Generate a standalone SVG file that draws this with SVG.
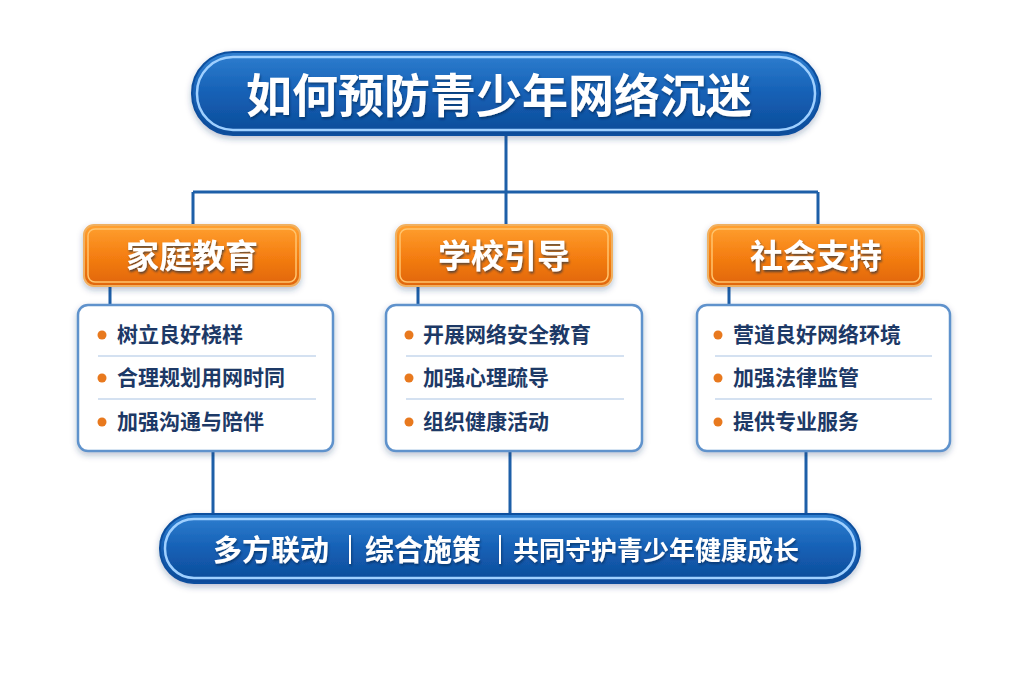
<svg xmlns="http://www.w3.org/2000/svg" width="1024" height="683" viewBox="0 0 1024 683">
<defs>
<linearGradient id="blueG" x1="0" y1="0" x2="0" y2="1">
<stop offset="0" stop-color="#2f7fd0"/>
<stop offset="0.5" stop-color="#1560b5"/>
<stop offset="1" stop-color="#0d4b98"/>
</linearGradient>
<linearGradient id="orangeG" x1="0" y1="0" x2="0" y2="1">
<stop offset="0" stop-color="#ffa030"/>
<stop offset="0.5" stop-color="#f57f12"/>
<stop offset="1" stop-color="#e0650a"/>
</linearGradient>
<filter id="sh" x="-10%" y="-20%" width="120%" height="150%">
<feDropShadow dx="0" dy="3" stdDeviation="3" flood-color="#1a3a6a" flood-opacity="0.3"/>
</filter>
<filter id="tsh" x="-5%" y="-20%" width="110%" height="150%">
<feDropShadow dx="1" dy="2" stdDeviation="1" flood-color="#05254f" flood-opacity="0.6"/>
</filter>
</defs>
<style>
.cn{font-family:"Noto Sans CJK SC","Noto Sans",sans-serif;font-weight:bold}
.wt{fill:#ffffff}
.item{font-family:"Noto Sans CJK SC","Noto Sans",sans-serif;font-weight:bold;font-size:21px;fill:#1d3966}
.dot{fill:#e8791e}
.sep{stroke:#a9c4e4;stroke-width:1.2}
.conn{stroke:#1d5fa8;stroke-width:3;fill:none}
.card{fill:#ffffff;stroke:#5e92cc;stroke-width:2.5}
.obox{fill:url(#orangeG);stroke:#f0b060;stroke-width:2}
.oin{fill:none;stroke:#ffc46e;stroke-width:1.5}
.pill{fill:url(#blueG);stroke:#0e4f9e;stroke-width:2}
.pin{fill:none;stroke:#9fd0ff;stroke-width:2.5}
</style>
<rect width="1024" height="683" fill="#ffffff"/>
<g id="connectors">
<path class="conn" d="M506 135 V192 M193 192 H818 M193 192 V226 M506 192 V226 M818 192 V226"/>
<path class="conn" d="M110 286 V306 M418 286 V306 M729 286 V306"/>
<path class="conn" d="M213 451 V515 M510 451 V515 M806 451 V515"/>
</g>
<g id="title">
<rect class="pill" x="192" y="52" width="628" height="83" rx="41" filter="url(#sh)"/>
<rect class="pin" x="197" y="57" width="618" height="73" rx="36"/>
<text class="cn wt" x="499" y="112" font-size="46" text-anchor="middle" filter="url(#tsh)">如何预防青少年网络沉迷</text>
</g>
<g id="family">
<rect class="obox" x="84" y="225" width="216" height="61" rx="10" filter="url(#sh)"/>
<rect class="oin" x="88" y="229" width="208" height="53" rx="7"/>
<text class="cn wt" x="192" y="268" font-size="33" text-anchor="middle" filter="url(#tsh)">家庭教育</text>
</g>
<g id="school">
<rect class="obox" x="396" y="225" width="216" height="61" rx="10" filter="url(#sh)"/>
<rect class="oin" x="400" y="229" width="208" height="53" rx="7"/>
<text class="cn wt" x="504" y="268" font-size="33" text-anchor="middle" filter="url(#tsh)">学校引导</text>
</g>
<g id="society">
<rect class="obox" x="708" y="225" width="216" height="61" rx="10" filter="url(#sh)"/>
<rect class="oin" x="712" y="229" width="208" height="53" rx="7"/>
<text class="cn wt" x="816" y="268" font-size="33" text-anchor="middle" filter="url(#tsh)">社会支持</text>
</g>
<g id="family-items">
<rect class="card" x="78" y="305" width="255" height="146" rx="10" filter="url(#sh)"/>
<line class="sep" x1="98" y1="356" x2="316" y2="356"/>
<line class="sep" x1="98" y1="399" x2="316" y2="399"/>
<circle class="dot" cx="102" cy="335" r="4.5"/>
<circle class="dot" cx="102" cy="378" r="4.5"/>
<circle class="dot" cx="102" cy="422" r="4.5"/>
<text class="item" x="117" y="342">树立良好桡样</text>
<text class="item" x="117" y="385">合理规划用网时同</text>
<text class="item" x="117" y="429">加强沟通与陪伴</text>
</g>
<g id="school-items">
<rect class="card" x="386" y="305" width="256" height="146" rx="10" filter="url(#sh)"/>
<line class="sep" x1="406" y1="356" x2="624" y2="356"/>
<line class="sep" x1="406" y1="399" x2="624" y2="399"/>
<circle class="dot" cx="409" cy="335" r="4.5"/>
<circle class="dot" cx="409" cy="378" r="4.5"/>
<circle class="dot" cx="409" cy="422" r="4.5"/>
<text class="item" x="423" y="342">开展网络安全教育</text>
<text class="item" x="423" y="385">加强心理疏导</text>
<text class="item" x="423" y="429">组织健康活动</text>
</g>
<g id="society-items">
<rect class="card" x="697" y="305" width="253" height="146" rx="10" filter="url(#sh)"/>
<line class="sep" x1="715" y1="356" x2="932" y2="356"/>
<line class="sep" x1="715" y1="399" x2="932" y2="399"/>
<circle class="dot" cx="718" cy="335" r="4.5"/>
<circle class="dot" cx="718" cy="378" r="4.5"/>
<circle class="dot" cx="718" cy="422" r="4.5"/>
<text class="item" x="733" y="342">营道良好网络环境</text>
<text class="item" x="733" y="385">加强法律监管</text>
<text class="item" x="733" y="429">提供专业服务</text>
</g>
<g id="summary">
<rect class="pill" x="160" y="514" width="700" height="69" rx="34" filter="url(#sh)"/>
<rect class="pin" x="165" y="519" width="690" height="59" rx="29"/>
<g filter="url(#tsh)">
<text class="cn wt" x="213" y="561" font-size="29">多方联动</text>
<rect class="wt" x="349" y="535" width="2" height="29"/>
<text class="cn wt" x="365" y="561" font-size="29">综合施策</text>
<rect class="wt" x="499" y="535" width="2" height="29"/>
<text class="cn wt" x="513" y="560" font-size="26">共同守护青少年健康成长</text>
</g>
</g>
</svg>
